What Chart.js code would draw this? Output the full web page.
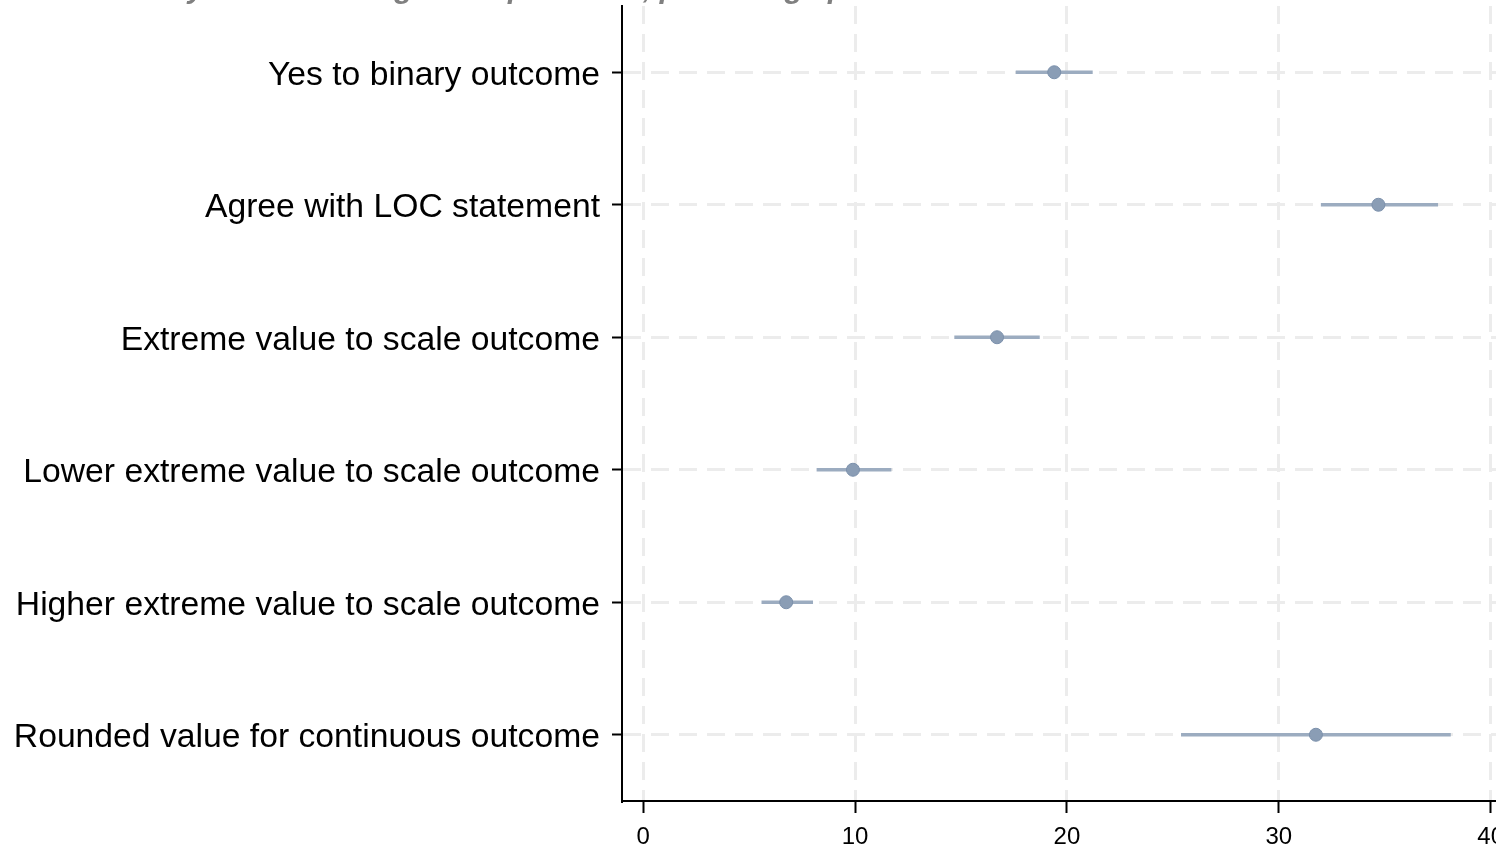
<!DOCTYPE html>
<html>
<head>
<meta charset="utf-8">
<script src="https://cdn.jsdelivr.net/npm/chart.js@4"></script>
<style>
  body { margin: 0; background: #fff; }
  #wrap { width: 1496px; height: 847px; }
</style>
</head>
<body>
<div id="wrap"><canvas id="c" width="1496" height="847"></canvas></div>
<script>
// data
const outcomes = [
  'Yes to binary outcome',
  'Agree with LOC statement',
  'Extreme value to scale outcome',
  'Lower extreme value to scale outcome',
  'Higher extreme value to scale outcome',
  'Rounded value for continuous outcome'
];
const estimate = [19.4, 34.7, 16.7, 9.9, 6.75, 31.75];
const ciLow    = [17.6, 32.0, 14.7, 8.2, 5.6, 25.4];
const ciHigh   = [21.2, 37.5, 18.7, 11.7, 8.0, 38.1];
const xTicks   = [0, 10, 20, 30, 40];
const titleText = 'Difference by device among all respondents, percentage points';

const gridGrey = '#ececec';

// title sits mostly above the canvas, only its lower edge shows
const cutTitle = {
  id: 'cutTitle',
  afterDraw(chart) {
    const ctx = chart.ctx;
    ctx.save();
    ctx.font = 'italic bold 30px "Liberation Sans"';
    ctx.fillStyle = '#808080';
    ctx.textBaseline = 'alphabetic';
    ctx.fillText(titleText, 15, -2);
    ctx.restore();
  }
};

new Chart(document.getElementById('c'), {
  type: 'bar',
  data: {
    labels: outcomes,
    datasets: [
      {
        type: 'scatter',
        order: 0,
        data: outcomes.map((o, i) => ({ x: estimate[i], y: o })),
        pointRadius: 6.5,
        backgroundColor: '#8a9db5',
        borderColor: '#7b90ab',
        borderWidth: 1
      },
      {
        order: 1,
        data: outcomes.map((o, i) => [ciLow[i], ciHigh[i]]),
        backgroundColor: '#9cacc0',
        borderWidth: 0,
        barThickness: 3
      }
    ]
  },
  options: {
    indexAxis: 'y',
    responsive: false,
    animation: false,
    layout: { autoPadding: false, padding: { top: 6, left: 0, right: 0, bottom: 0 } },
    plugins: {
      legend: { display: false },
      tooltip: { enabled: false }
    },
    scales: {
      x: {
        type: 'linear',
        min: -1,
        max: 40.25,
        afterBuildTicks(scale) {
          scale.ticks = xTicks.map(v => ({ value: v }));
        },
        afterFit(scale) {
          scale.height = 46;
          scale.paddingLeft = 0;
          scale.paddingRight = 0;
        },
        grid: {
          color: gridGrey,
          lineWidth: 3,
          tickColor: '#000',
          tickWidth: 2,
          tickLength: 12
        },
        border: { color: '#000', width: 2, dash: [18, 10] },
        ticks: {
          color: '#000',
          padding: 10,
          font: { family: '"Liberation Sans"', size: 24 }
        }
      },
      y: {
        type: 'category',
        offset: true,
        afterFit(scale) {
          scale.width = 622;
          scale.paddingTop = 0;
          scale.paddingBottom = 0;
        },
        grid: {
          offset: false,
          color: gridGrey,
          lineWidth: 3,
          tickColor: '#000',
          tickWidth: 2,
          tickLength: 10
        },
        border: { color: '#000', width: 2, dash: [18, 10] },
        ticks: {
          color: '#000',
          padding: 12,
          labelOffset: 3,
          font: { family: '"Liberation Sans"', size: 33.7 }
        }
      }
    }
  },
  plugins: [cutTitle]
});
</script>
</body>
</html>
